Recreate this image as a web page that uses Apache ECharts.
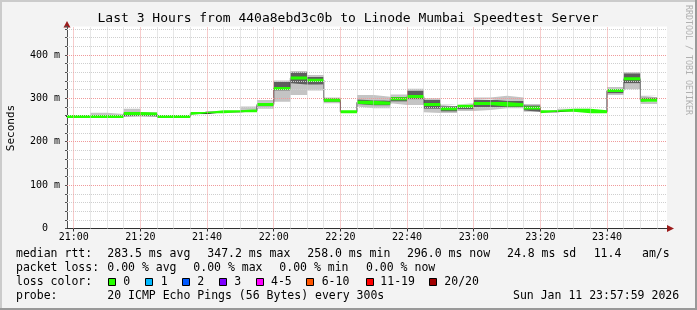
<!DOCTYPE html>
<html><head><meta charset="utf-8">
<script src="https://cdn.jsdelivr.net/npm/echarts@6/dist/echarts.min.js"></script>
<style>html,body{margin:0;padding:0;background:#f3f3f3;}#c{width:697px;height:310px;}</style>
</head><body><div id="c"></div>
<script>
// ---------- data ----------
const titleText = 'Last 3 Hours from 440a8ebd3c0b to Linode Mumbai Speedtest Server';
const plotStart = '20:57:59';
const plotEnd = '23:57:59';
const stepMinutes = 5; // 300 s per step
const intervalStarts = ['20:55','21:00','21:05','21:10','21:15','21:20','21:25','21:30','21:35','21:40','21:45','21:50',
  '21:55','22:00','22:05','22:10','22:15','22:20','22:25','22:30','22:35','22:40','22:45','22:50',
  '22:55','23:00','23:05','23:10','23:15','23:20','23:25','23:30','23:35','23:40','23:45','23:50'];
const medianRtt = [258,258,258,258,265,264,258,258,265,269,269,271.5,
  286,323,347,342,296,269,291,289,299,304,286,276,
  282,288,288,285,278,269,272.5,272.5,269,318,345,296];
const smokeLo = [258,258,258,258,258,258,258,258,265,269,269,269,
  276,292,308,318,289,269,281,277,289,285,268,266,
  271,271,273,277,269,269,270,269,269,308,321,287];
const smokeCoreLo = [258,258,258,258,258,259,258,258,265,269,269,270,
  282,318,335,332,292,269,287,284,293,298,276,270,
  275,280,280,280,272,269,271,271,269,312,335,292];
const smokeCoreHi = [258,258,259,259,268,266,258,258,265,269,269,274,
  290,338,360,350,300,269,298,295,304,318,296,282,
  286,296,298,294,284,269,274,274,269,322,358,302];
const smokeHi = [258,258,267,264,276,268,258,258,265,269,269,281,
  296,341,363,354,302,269,308,304,309,322,300,286,
  289,302,306,302,287,269,276,276,269,326,361,306];
const xTickLabels = ['21:00','21:20','21:40','22:00','22:20','22:40','23:00','23:20','23:40'];
const yTickValues = [0,100,200,300,400];
const yUnitSuffix = ' m';
const medianStats = ['283.5 ms avg','347.2 ms max','258.0 ms min','296.0 ms now','24.8 ms sd','11.4','am/s'];
const lossStats = ['0.00 % avg','0.00 % max','0.00 % min','0.00 % now'];
const lossLabels = ['0','1','2','3','4-5','6-10','11-19','20/20'];
const lossColors = ['#26ff00','#00b8ff','#0059ff','#7e00ff','#ff00ff','#ff5500','#ff0000','#a10000'];
const probeText = '20 ICMP Echo Pings (56 Bytes) every 300s';
const dateText = 'Sun Jan 11 23:57:59 2026';
const yAxisTitle = 'Seconds';
const sideText = 'RRDTOOL / TOBI OETIKER';

// ---------- helpers ----------
function toMin(s){ const p = s.split(':').map(Number); return (p[0]*60 + p[1] + (p[2]||0)/60) - 21*60; }
const xMin = toMin(plotStart), xMax = toMin(plotEnd);
const xStarts = intervalStarts.map(toMin);
// points are [value, minute] so that the stack runs on the value dimension
function stepData(vals){
  const d = xStarts.map((x,i)=>[vals[i], x]);
  d.push([vals[vals.length-1], xStarts[xStarts.length-1] + stepMinutes]);
  return d;
}
const diff = (a,b)=>a.map((v,i)=>v-b[i]);
const xTickMinutes = xTickLabels.map(toMin);
const labelOf = v => { const i = xTickMinutes.findIndex(m=>Math.abs(m-v)<1e-6); return i>=0 ? xTickLabels[i] : ''; };
const Y_MAX = 465.7;

// grid lines (axis decoration)
const gridLines = [];
const minorV = {color:'#cfcfcf', type:[1,1], width:1};
const majorV = {color:'#f09a9a', type:[1,1], width:1};
for (let m = 0; m <= xMax; m += stepMinutes) {
  gridLines.push([{coord:[m,0], lineStyle: (m % 20 === 0 ? majorV : minorV)}, {coord:[m,Y_MAX]}]);
}
for (let v = 20; v <= 460; v += 20) {
  gridLines.push([{coord:[xMin,v], lineStyle: (v % 100 === 0 ? majorV : minorV)}, {coord:[xMax,v]}]);
}
gridLines.sort((a,b)=> (a[0].lineStyle===majorV) - (b[0].lineStyle===majorV));

const GREEN_HALF = 3.5;
const lightSmoke = '#c4c4c4', darkSmoke = '#5e5e5e';
function band(name, vals, stack, color, z){
  return {name, type:'line', stack, step:'end', symbol:'none', data: stepData(vals),
    encode:{x:1, y:0},
    lineStyle:{opacity:0, width:0}, areaStyle: color ? {color, opacity:1} : undefined,
    silent:true, z};
}

const series = [
  {type:'line', data:[], silent:true, z:1,
    markLine:{silent:true, symbol:'none', label:{show:false}, animation:false, data: gridLines}},
  band('lo', smokeLo, 'smoke', null, 2),
  band('b1', diff(smokeCoreLo, smokeLo), 'smoke', lightSmoke, 2),
  band('b2', diff(medianRtt, smokeCoreLo), 'smoke', darkSmoke, 2),
  band('b3', diff(smokeCoreHi, medianRtt), 'smoke', darkSmoke, 2),
  band('b4', diff(smokeHi, smokeCoreHi), 'smoke', lightSmoke, 2),
  {type:'line', step:'end', symbol:'none', data: stepData(medianRtt), encode:{x:1, y:0}, silent:true, z:3,
    lineStyle:{color:'#202020', width:1}},
  band('g0', medianRtt.map(v=>v-GREEN_HALF), 'green', null, 4),
  band('g1', medianRtt.map(()=>2*GREEN_HALF), 'green', lossColors[0], 4)
];

const mono = '"DejaVu Sans Mono", monospace';
const graphics = [];
function txt(x, y, text, size, extra){
  graphics.push(Object.assign({type:'text', x, y, silent:true,
    style: Object.assign({text, font: size+'px '+mono, fill:'#000', align:'left', verticalAlign:'middle'}, (extra&&extra.style)||{})},
    extra ? {rotation: extra.rotation||0} : {}));
}
txt(348, 19, titleText, 13, {style:{align:'center'}});
txt(11, 128, yAxisTitle, 11, {rotation: Math.PI/2, style:{align:'center'}});
txt(688, 60, sideText, 8.3, {rotation: -Math.PI/2, style:{align:'center', fill:'#b0b0b0'}});
txt(16, 254, 'median rtt:', 11.5);
[107.3, 207.3, 307.3, 407, 507, 593.7, 642].forEach((x,i)=>txt(x, 254, medianStats[i], 11.5));
txt(16, 268, 'packet loss:', 11.5);
[107.3, 193.3, 279.3, 366].forEach((x,i)=>txt(x, 268, lossStats[i], 11.5));
txt(16, 282, 'loss color:', 11.5);
const boxX = [108.5, 145.5, 182.5, 219.5, 256.5, 306.5, 366.5, 429.5];
const labX = [123.3, 160.7, 197.3, 234.3, 271, 321.7, 380.3, 444.3];
lossLabels.forEach((l,i)=>{
  graphics.push({type:'rect', silent:true, shape:{x:boxX[i], y:278.5, width:7, height:7},
    style:{fill:lossColors[i], stroke:'#000', lineWidth:1}});
  txt(labX[i], 282, l, 11.5);
});
txt(16, 296, 'probe:', 11.5);
txt(107.3, 296, probeText, 11.5);
txt(513, 296, dateText, 11.5);
graphics.push({type:'polygon', silent:true, shape:{points:[[63.5,27.5],[70.5,27.5],[67,21]]}, style:{fill:'#9c1c1c'}});
graphics.push({type:'polygon', silent:true, shape:{points:[[667,225],[667,232],[674,228.5]]}, style:{fill:'#9c1c1c'}});
graphics.push({type:'rect', silent:true, shape:{x:0,y:0,width:697,height:2}, style:{fill:'#cbcbcb'}});
graphics.push({type:'rect', silent:true, shape:{x:0,y:0,width:2,height:310}, style:{fill:'#cbcbcb'}});
graphics.push({type:'rect', silent:true, shape:{x:0,y:308,width:697,height:2}, style:{fill:'#999999'}});
graphics.push({type:'rect', silent:true, shape:{x:695,y:0,width:2,height:310}, style:{fill:'#999999'}});

const chart = echarts.init(document.getElementById('c'), null, {renderer:'canvas'});
chart.setOption({
  animation:false,
  backgroundColor:'#f3f3f3',
  grid:{left:67, right:30, top:26.5, bottom:81.5, show:true, backgroundColor:'#ffffff', borderWidth:0},
  xAxis:{type:'value', min:xMin, max:xMax,
    axisLine:{show:true, lineStyle:{color:'#303030', width:1}},
    axisTick:{show:true, customValues: xTickMinutes, length:3, lineStyle:{color:'#303030'}},
    axisLabel:{show:true, customValues: xTickMinutes, formatter: labelOf, margin:4,
      fontFamily: mono, fontSize:10, color:'#000'},
    splitLine:{show:false}},
  yAxis:{type:'value', min:0, max:Y_MAX, interval:20,
    axisLine:{show:true, onZero:false, lineStyle:{color:'#505050', width:1}},
    axisTick:{show:true, length:2, lineStyle:{color:'#505050'}},
    axisLabel:{show:true, margin:7, fontFamily: mono, fontSize:10, color:'#000',
      formatter: v => yTickValues.includes(v) ? (v === 0 ? '0  ' : v + yUnitSuffix) : ''},
    splitLine:{show:false}},
  series,
  graphic: graphics
});
</script></body></html>
